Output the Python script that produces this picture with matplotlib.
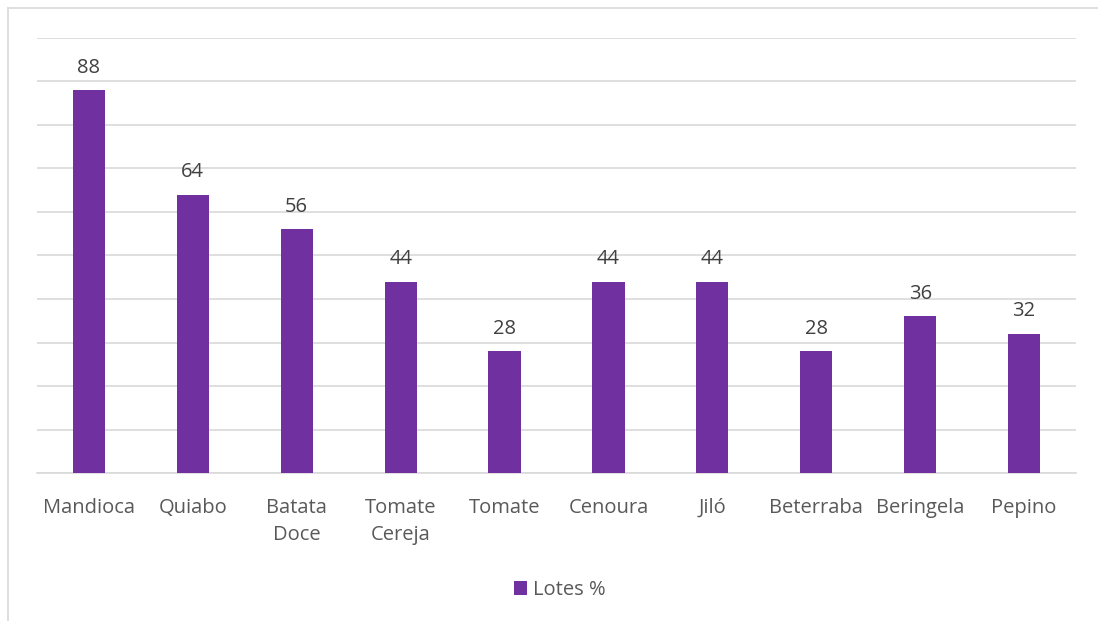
import matplotlib.pyplot as plt
import numpy as np

#data
categories = ['Mandioca', 'Quiabo', 'Batata\nDoce', 'Tomate\nCereja', 'Tomate',
              'Cenoura', 'Jiló', 'Beterraba', 'Beringela', 'Pepino']
lotes = [88, 64, 56, 44, 28, 44, 44, 28, 36, 32]
series_name = 'Lotes %'

purple = '#7030A0'
text_gray = '#595959'
grid_gray = '#D9D9D9'

plt.rcParams['font.family'] = ['Open Sans', 'DejaVu Sans']

fig = plt.figure(figsize=(10.98, 6.21), dpi=100)
ax = fig.add_axes([37 / 1098, 1 - 473 / 621, (1076 - 37) / 1098, (473 - 38) / 621])

x = np.arange(len(categories))
bars = ax.bar(x, lotes, width=0.31, color=purple, label=series_name, zorder=3)

#data labels
for b, v in zip(bars, lotes):
    ax.annotate(str(v), (b.get_x() + b.get_width() / 2, v), xytext=(0, 9),
                textcoords='offset points', ha='center', va='bottom',
                fontsize=14.5, color='#404040')

ax.set_xlim(-0.5, len(categories) - 0.5)
ax.set_ylim(0, 100)
ax.set_yticks(np.arange(0, 101, 10))
ax.yaxis.grid(True, color=grid_gray, lw=1.2, zorder=0)
ax.tick_params(axis='y', left=False, labelleft=False)
ax.tick_params(axis='x', length=0, pad=18, labelsize=14.5, labelcolor=text_gray)
ax.set_xticks(x)
ax.set_xticklabels(categories, linespacing=1.45, va='top')
for s in ['top', 'right', 'left']:
    ax.spines[s].set_visible(False)
ax.spines['bottom'].set_color(grid_gray)
ax.spines['bottom'].set_linewidth(1.2)

#legend
ax.legend(loc='center', bbox_to_anchor=(0.503, (473 - 590) / (473 - 38)), frameon=False,
          fontsize=14.5, labelcolor=text_gray, handlelength=0.65, handleheight=0.65,
          handletextpad=0.3)

#outer frame (left and top edges visible)
fig.add_artist(plt.Line2D([8 / 1098, 8 / 1098], [0, 1 - 8 / 621], color=grid_gray, lw=1.2,
                          transform=fig.transFigure))
fig.add_artist(plt.Line2D([8 / 1098, 1], [1 - 8 / 621, 1 - 8 / 621], color=grid_gray, lw=1.2,
                          transform=fig.transFigure))

fig.savefig('out.png', dpi=100)
